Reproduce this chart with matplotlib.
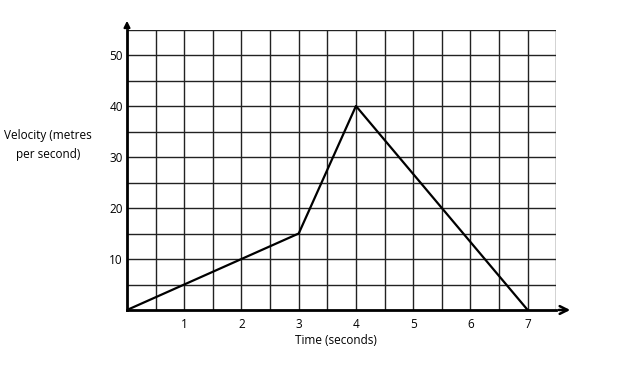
import numpy as np
import matplotlib.pyplot as plt

# data
time_s = [0, 3, 4, 7]
velocity = [0, 15, 40, 0]
x_ticks = [1, 2, 3, 4, 5, 6, 7]
y_ticks = [10, 20, 30, 40, 50]

plt.rcParams['font.family'] = ['Open Sans', 'DejaVu Sans']

fig = plt.figure(figsize=(6.18, 3.69), dpi=100)
ax = fig.add_axes([127 / 618, 1 - 310 / 369, 429.3 / 618, 280.5 / 369])

ax.set_xlim(0, 7.5)
ax.set_ylim(0, 55)

# grid every half second / 5 m/s
for gx in np.arange(0.5, 7.51, 0.5):
    ax.axvline(gx, color='#222222', lw=1.0, zorder=1)
for gy in np.arange(5, 55.1, 5):
    ax.axhline(gy, color='#222222', lw=1.0, zorder=1)

ax.plot(time_s, velocity, color='black', lw=1.6, zorder=3)

for s in ['top', 'right']:
    ax.spines[s].set_visible(False)
for s in ['left', 'bottom']:
    ax.spines[s].set_linewidth(2.0)
    ax.spines[s].set_color('black')

# axis arrows
ax.annotate('', xy=(573 / 618, 1 - 310 / 369), xycoords='figure fraction',
            xytext=(556 / 618, 1 - 310 / 369), textcoords='figure fraction',
            arrowprops=dict(arrowstyle='->', lw=1.8, color='black', mutation_scale=14))
ax.annotate('', xy=(127 / 618, 1 - 18 / 369), xycoords='figure fraction',
            xytext=(127 / 618, 1 - 30 / 369), textcoords='figure fraction',
            arrowprops=dict(arrowstyle='-|>', lw=1.5, color='black', mutation_scale=9))

ax.set_xticks(x_ticks)
ax.set_xticklabels([str(v) for v in x_ticks])
ax.set_yticks(y_ticks)
ax.set_yticklabels([str(v) for v in y_ticks])
ax.tick_params(length=0, labelsize=8.5, colors='black')
ax.tick_params(axis='x', pad=6)
ax.tick_params(axis='y', pad=3)

ax.set_xlabel('Time (seconds)', fontsize=8.5)
ax.xaxis.set_label_coords(0.486, -0.085)
fig.text(48 / 618, 1 - 145 / 369, 'Velocity (metres\nper second)', fontsize=8.5,
         ha='center', va='center', linespacing=1.6)

fig.savefig('out.png', dpi=100)
